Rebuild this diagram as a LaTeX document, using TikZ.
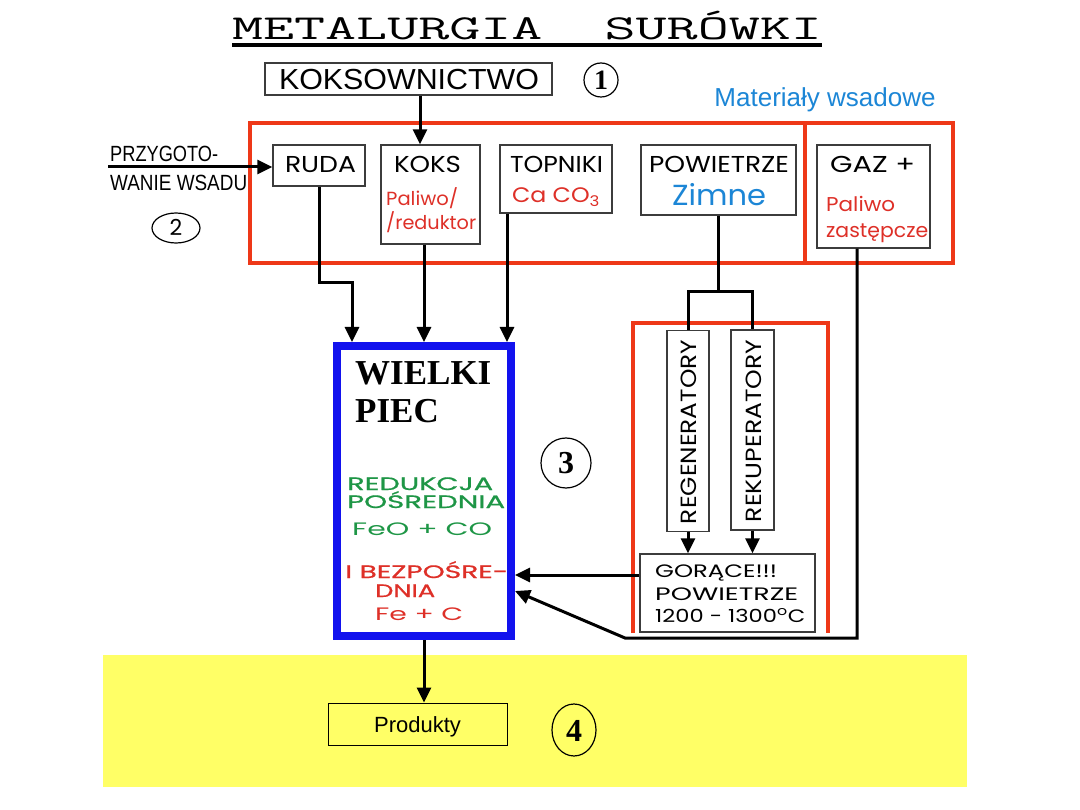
\documentclass[tikz,border=0pt]{standalone}
\usepackage{fontspec}
\setmainfont{Liberation Sans}
\newfontfamily\geo{Poppins}
\newfontfamily\geom{Poppins}[FakeBold=0.7]
\newfontfamily\tms{Liberation Serif}
\usetikzlibrary{arrows.meta,calc}
\definecolor{frame}{RGB}{238,56,24}
\definecolor{lblue}{RGB}{28,134,214}
\definecolor{fblue}{RGB}{18,18,238}
\definecolor{grn}{RGB}{30,150,70}
\definecolor{rtxt}{RGB}{222,48,40}
\definecolor{yel}{RGB}{255,255,102}
\definecolor{boxline}{RGB}{60,60,60}
\newcommand{\fs}[1]{\fontsize{#1}{#1}\selectfont}
\newlength\wxlen
\newcommand{\wx}[2]{\settowidth{\wxlen}{#2}\scalebox{\fpeval{(#1)/(\the\wxlen)}}[1]{#2}}
\begin{document}
\begin{tikzpicture}[x=1pt,y=-1pt,
  box/.style={draw=boxline, line width=1.4pt, inner sep=0pt},
  conn/.style={line width=3pt, black},
  arr/.style={conn, -{Triangle[length=15pt,width=14pt]}},
  redline/.style={draw=frame, line width=4pt},
  txt/.style={inner sep=0pt, anchor=base},
  txtl/.style={inner sep=0pt, anchor=base west},
  geol/.style={txt, font=\geo\fs{23}}
]
\useasboundingbox (0,0) rectangle (1080,810);
\fill[white] (0,0) rectangle (1080,810);
\fill[yel] (103,655) rectangle (967,787);

% title
\node[txt, font=\ttfamily\fs{35}] (title) at (527,40) {\wx{590pt}{METALURGIA\ \ SURÓWKI}};
\draw[line width=4pt] (232,45) -- (822,45);

% koksownictwo
\node[box, minimum width=287pt, minimum height=32pt] (kok) at (408.5,79) {};
\node[txt, font=\fs{29}] (kokt) at (409,90) {\wx{260pt}{KOKSOWNICTWO}};
\draw[line width=1.2pt] (601,80) ellipse (17 and 17);
\node[txt, font=\tms\bfseries\fs{28}] (n1) at (601,90) {1};

\node[txt, font=\fs{26}, text=lblue] (mat) at (825,107) {Materiały wsadowe};

% red frame of charge materials
\draw[redline] (250,123) rectangle (953,263);
\draw[redline] (805,123) -- (805,263);

% charge boxes
\node[box, minimum width=92pt, minimum height=41pt] (ruda) at (319,165.5) {};
\node[geol] (rudat) at (320.5,173) {\wx{71pt}{RUDA}};
\node[box, minimum width=99pt, minimum height=99pt] (koks) at (430.5,194.5) {};
\node[geol] (kokst) at (427.5,173) {\wx{67pt}{KOKS}};
\node[txtl, font=\geo\fs{19}, text=rtxt] (pal1) at (386,206) {\wx{72pt}{Paliwo/}};
\node[txtl, font=\geo\fs{19}, text=rtxt] (pal2) at (386,230) {\wx{90pt}{/reduktor}};
\node[box, minimum width=112pt, minimum height=68pt] (topn) at (556,179) {};
\node[geol] (topnt) at (556.5,173) {\wx{93pt}{TOPNIKI}};
\node[txt, font=\geo\fs{21}, text=rtxt] (caco) at (556,203) {\wx{88pt}{Ca CO\textsubscript{3}}};
\node[box, minimum width=155pt, minimum height=70pt] (pow) at (718.5,180) {};
\node[geol] (powt) at (719,173) {\wx{140pt}{POWIETRZE}};
\node[txt, font=\geo\fs{29}, text=lblue] (zim) at (719,206) {\wx{94pt}{Zimne}};
\node[box, minimum width=113pt, minimum height=103pt] (gaz) at (873.5,196.5) {};
\node[txtl, font=\geo\fs{23}] (gazt) at (830,173) {\wx{85pt}{GAZ +}};
\node[txtl, font=\geo\fs{20}, text=rtxt] (gz1) at (826,212) {\wx{69pt}{Paliwo}};
\node[txtl, font=\geo\fs{20}, text=rtxt] (gz2) at (826,238) {\wx{102pt}{zastępcze}};

% przygotowanie wsadu
\node[txtl, font=\fs{22}] (prz1) at (110,162) {\wx{108pt}{PRZYGOTO-}};
\node[txtl, font=\fs{22}] (prz2) at (110,191) {\wx{137pt}{WANIE WSADU}};
\coordinate (przs) at (108,167);
\draw[arr] (przs) -- (przs -| ruda.west);
\draw[line width=1.2pt] (176,228) ellipse (24 and 15);
\node[txt, font=\geo\fs{22}] (n2) at (176,236) {2};

% connector from koksownictwo
\draw[arr] (kok.south -| 420,0) -- (koks.north -| 420,0);

% blast furnace
\node[draw=fblue, line width=8pt, minimum width=174pt, minimum height=290pt, inner sep=0pt] (piec) at (424,491) {};
\node[txtl, font=\tms\bfseries\fs{35}] (wl) at (355,385) {WIELKI};
\node[txtl, font=\tms\bfseries\fs{35}] (pc) at (355,423) {PIEC};
\node[txtl, font=\geom\fs{18}, text=grn] (r1) at (347,490) {\wx{146pt}{REDUKCJA}};
\node[txtl, font=\geom\fs{18}, text=grn] (r2) at (347,508) {\wx{158pt}{POŚREDNIA}};
\node[txtl, font=\geo\fs{18}, text=grn] (r3) at (352,535) {\wx{140pt}{FeO + CO}};
\node[txtl, font=\geom\fs{18}, text=rtxt] (r4) at (345,578) {\wx{163pt}{I BEZPOŚRE-}};
\node[txtl, font=\geom\fs{18}, text=rtxt] (r5) at (375,597) {\wx{60pt}{DNIA}};
\node[txtl, font=\geo\fs{18}, text=rtxt] (r6) at (375,620) {\wx{88pt}{Fe + C}};
\draw[line width=1.2pt] (566,463) ellipse (25 and 25);
\node[txt, font=\tms\bfseries\fs{32}] (n3) at (566,474) {3};

% charge connectors to furnace
\draw[arr] (ruda.south) -- (ruda.south |- 0,283) -| ($(piec.north)+(-72,0)$);
\draw[arr] (koks.south -| piec.north) -- (piec.north);
\draw[arr] (topn.south -| 507,0) -- (piec.north -| 507,0);

% heater section
\draw[redline, line width=3.5pt] (633,633) -- (633,323) -- (828,323) -- (828,633);
\node[box, minimum width=42pt, minimum height=201pt] (reg) at (688,431) {};
\node[inner sep=0pt, rotate=90, font=\geo\fs{22}] (regt) at (689,432) {\wx{184pt}{REGENERATORY}};
\node[box, minimum width=43pt, minimum height=200pt] (rek) at (752.5,430) {};
\node[inner sep=0pt, rotate=90, font=\geo\fs{22}] (rekt) at (753.5,431) {\wx{182pt}{REKUPERATORY}};
\draw[conn] (pow.south) -- (pow.south |- 0,292);
\draw[conn] (reg.north) -- (reg.north |- 0,292) -| (rek.north);
\node[box, minimum width=175pt, minimum height=78pt] (hot) at (727.5,593) {};
\node[txtl, font=\geo\fs{18}] (h1) at (655,577) {\wx{122pt}{GORĄCE!!!}};
\node[txtl, font=\geo\fs{18}] (h2) at (655,600) {\wx{143pt}{POWIETRZE}};
\node[txtl, font=\geo\fs{18}] (h3) at (655,622) {\wx{150pt}{1200 - 1300\textsuperscript{o}C}};
\draw[arr] (reg.south) -- (reg.south |- hot.north);
\draw[arr] (rek.south) -- (rek.south |- hot.north);
\draw[arr] (hot.west |- 0,575) -- (piec.east |- 0,575);

% gas connector
\coordinate (gend) at (piec.east |- 0,591);
\draw[arr] (gaz.south -| 857,0) -- (857,638) -- (625,638) -- (gend);

% products
\node[box, draw=black, line width=1pt, fill=yel, minimum width=179pt, minimum height=42pt] (prod) at (417.5,724) {};
\node[txt, font=\fs{22}] (prodt) at (417.5,732) {Produkty};
\draw[arr] (piec.south) -- (piec.south |- prod.north);
\draw[line width=1.2pt] (574,730) ellipse (22 and 26);
\node[txt, font=\tms\bfseries\fs{32}] (n4) at (574,741) {4};
\end{tikzpicture}
\end{document}
